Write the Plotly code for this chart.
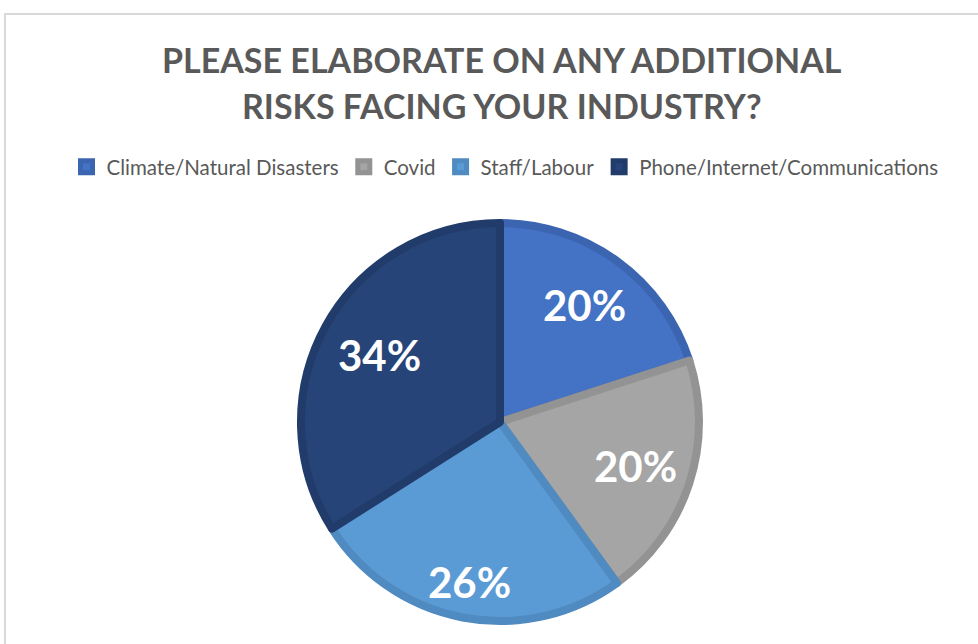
import math
import plotly.graph_objects as go

# Survey categories and their shares (%)
categories = ["Climate/Natural Disasters", "Covid", "Staff/Labour", "Phone/Internet/Communications"]
shares = [20, 20, 26, 34]

fill_colors = ["#4472C4", "#A5A5A5", "#5B9BD5", "#264478"]
edge_colors = ["#3B65B0", "#939393", "#4F8AC0", "#213C6B"]

# radial placement of each percentage label (fraction of the radius)
label_radius = [0.71, 0.70, 0.80, 0.68]

W, H = 978, 644
FONT = "Lato"

# pie geometry in pixels
CX, CY, R = 500, 422, 203
EDGE = 8
r_in = R - EDGE / 2

fig = go.Figure()
fig.add_trace(go.Pie(
    labels=categories,
    values=shares,
    sort=False,
    direction="clockwise",
    rotation=0,
    marker=dict(colors=fill_colors, line=dict(color=edge_colors, width=EDGE)),
    textinfo="none",
    domain=dict(x=[(CX - r_in) / W, (CX + r_in) / W],
                y=[1 - (CY + r_in) / H, 1 - (CY - r_in) / H]),
    hoverinfo="label+percent",
))

# percentage labels placed at the middle angle of each slice
total = sum(shares)
annotations = []
cum = 0
for val, rf in zip(shares, label_radius):
    mid = (cum + val / 2) / total * 2 * math.pi
    cum += val
    px = CX + rf * R * math.sin(mid)
    py = CY - rf * R * math.cos(mid)
    annotations.append(dict(
        x=px / W, y=1 - py / H, xref="paper", yref="paper",
        text=f"{round(val / total * 100)}%", showarrow=False,
        xanchor="center", yanchor="middle",
        font=dict(family=FONT, size=42, color="white", weight="bold"),
    ))

# two-line chart title
for line, ty in [("PLEASE ELABORATE ON ANY ADDITIONAL", 60), ("RISKS FACING YOUR INDUSTRY?", 105)]:
    annotations.append(dict(
        x=502 / W, y=1 - ty / H, xref="paper", yref="paper",
        text=line, showarrow=False, xanchor="center", yanchor="middle",
        font=dict(family=FONT, size=34, color="#595959", weight="bold"),
    ))

fig.update_layout(
    width=W,
    height=H,
    margin=dict(l=0, r=0, t=0, b=0),
    paper_bgcolor="white",
    plot_bgcolor="white",
    font=dict(family=FONT, color="#595959"),
    annotations=annotations,
    legend=dict(
        orientation="h",
        x=505 / W,
        xanchor="center",
        y=1 - 167 / H,
        yanchor="middle",
        font=dict(family=FONT, size=20.5, color="#595959"),
        itemclick=False,
    ),
    shapes=[dict(
        type="rect",
        xref="paper", yref="paper",
        x0=5 / W, x1=1.05,
        y0=-0.05, y1=1 - 14 / H,
        line=dict(color="#D9D9D9", width=2),
        fillcolor="rgba(0,0,0,0)",
        layer="below",
    )],
)

fig.write_html("out.html")
